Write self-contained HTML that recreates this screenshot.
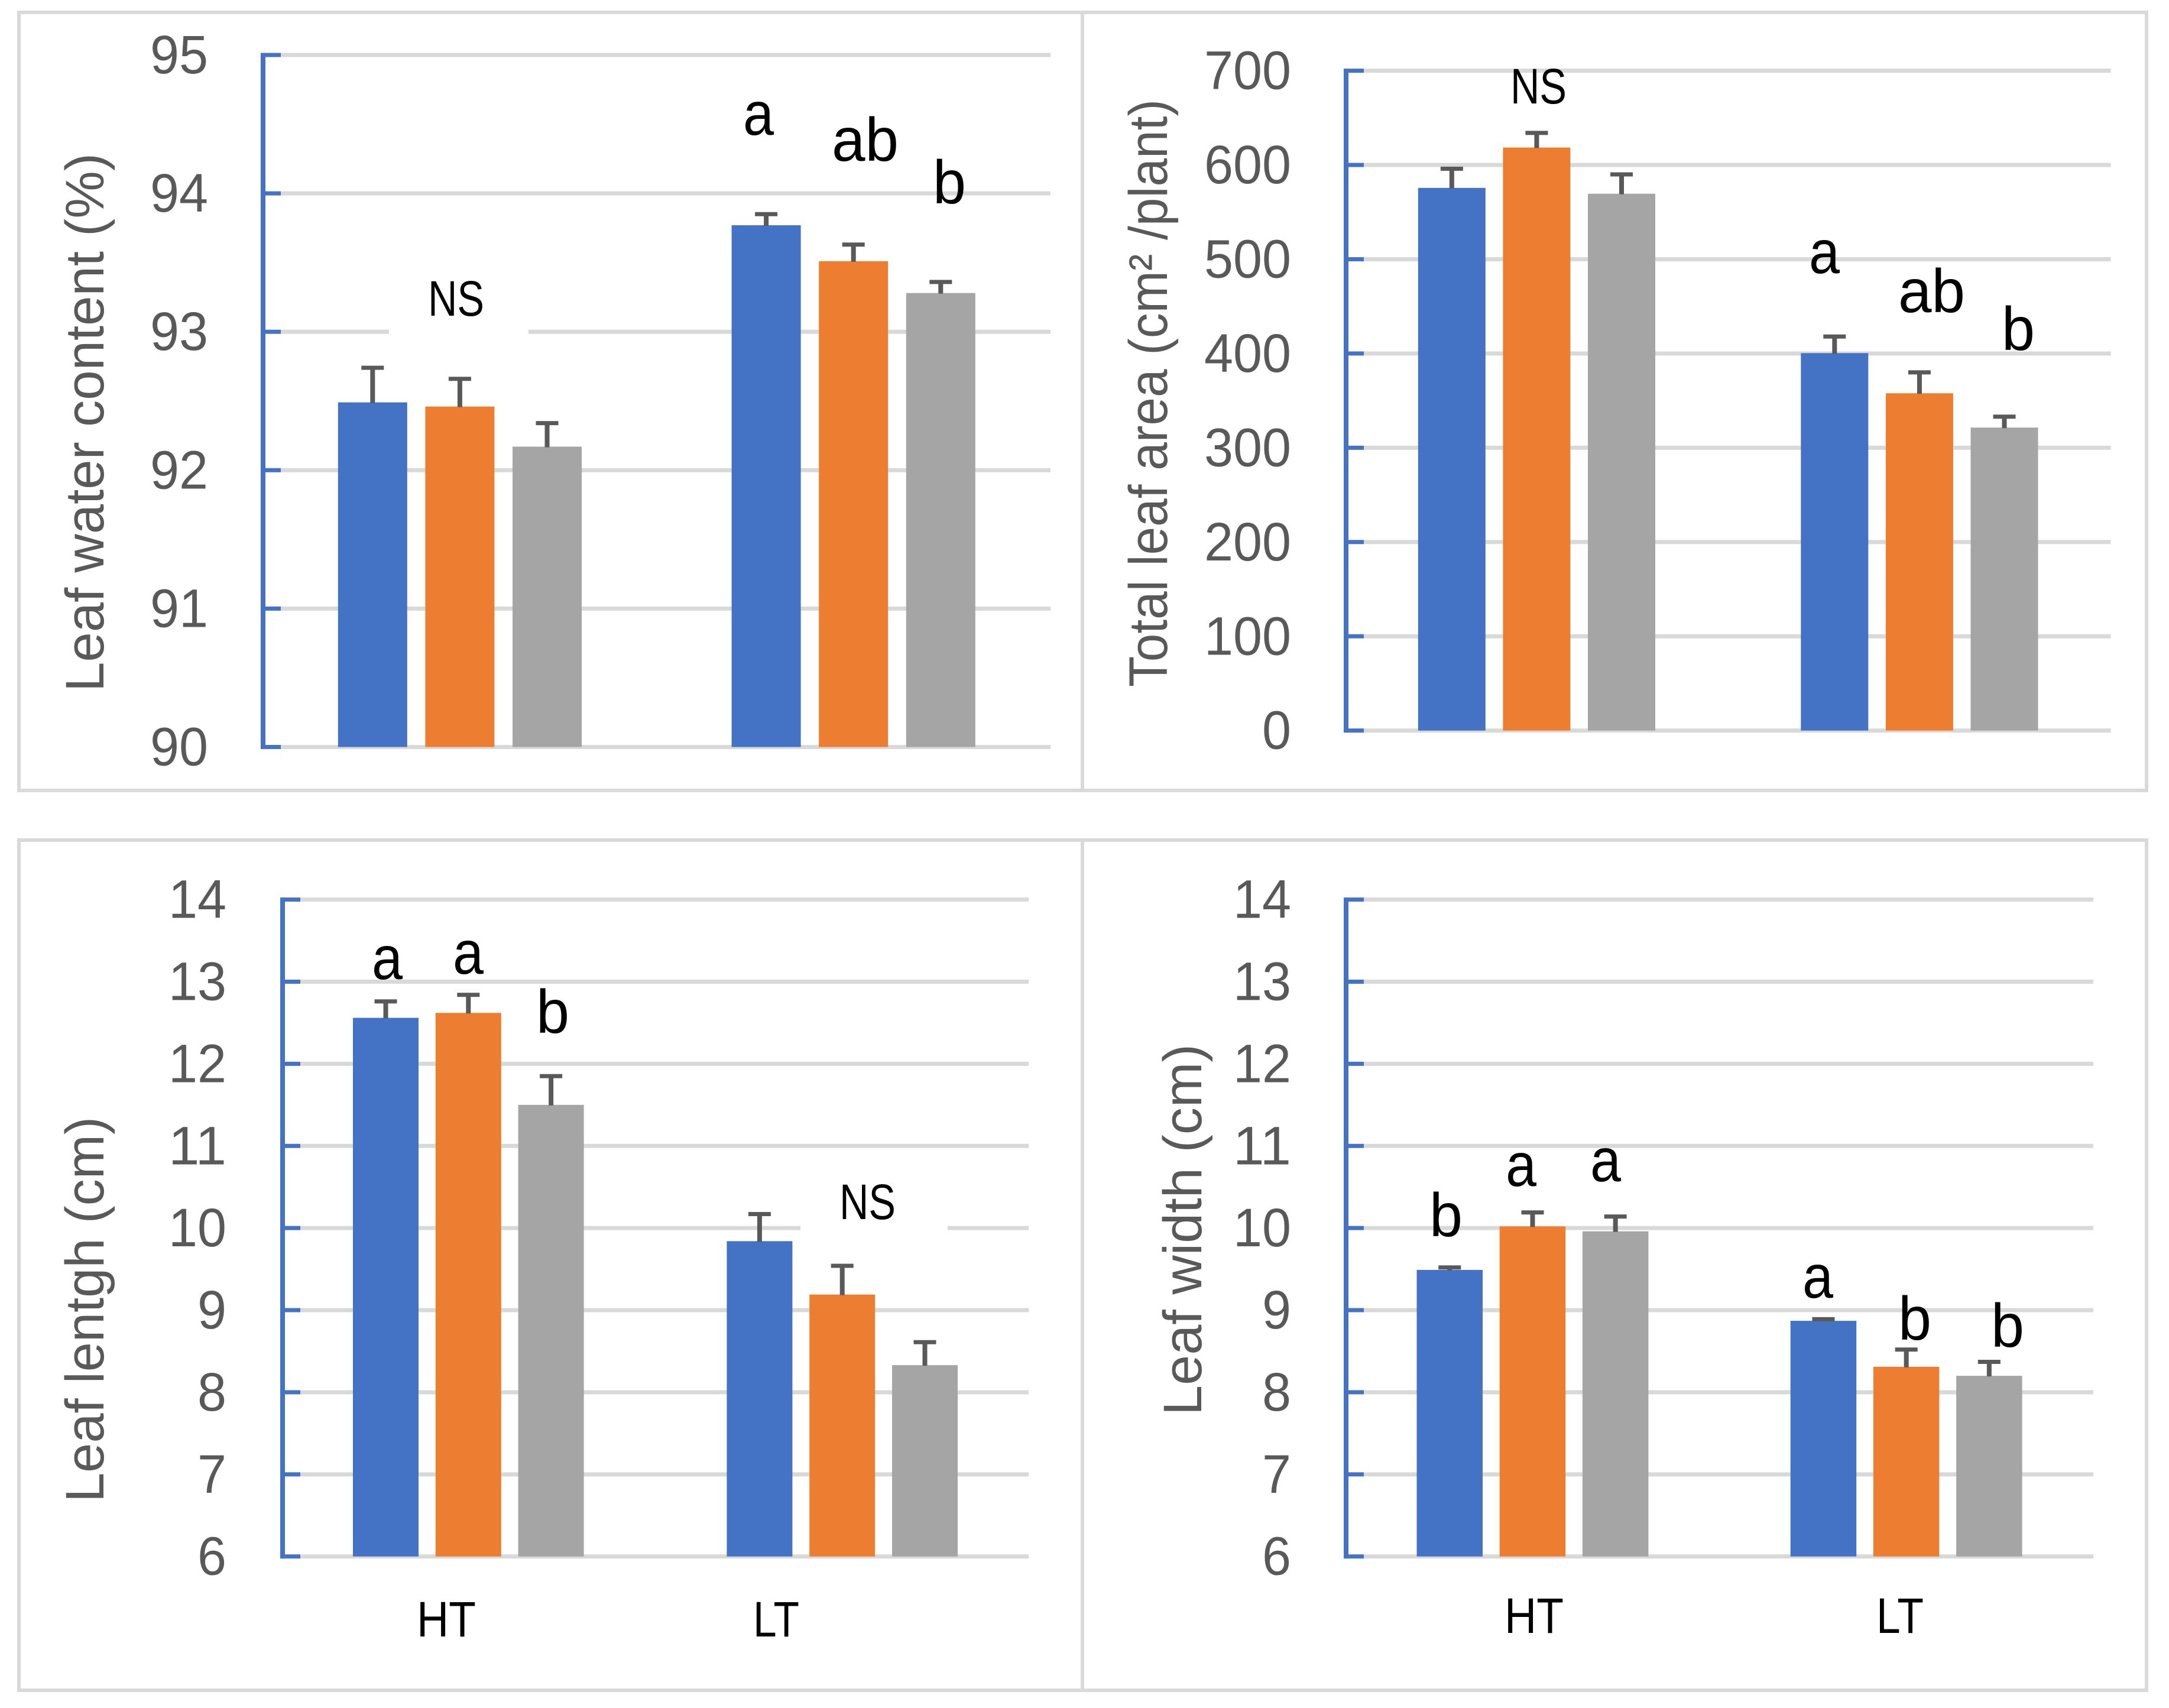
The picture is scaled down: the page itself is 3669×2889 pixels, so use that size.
<!DOCTYPE html>
<html lang="en">
<head>
<meta charset="utf-8">
<title>Leaf traits under HT and LT</title>
<style>
html,body{margin:0;padding:0;background:#fff;width:3669px;height:2889px;overflow:hidden}
svg{display:block}
text{font-family:"Liberation Sans",sans-serif}
.tick{font-size:92px;fill:#595959;text-anchor:end}
.title{font-size:92px;fill:#595959}
.note{font-size:104px;fill:#000}
.ns,.cat{font-size:84px;fill:#000}
</style>
</head>
<body>
<svg xmlns="http://www.w3.org/2000/svg" id="figure" width="3669" height="2889" viewBox="0 0 3669 2889">
  <rect x="0" y="0" width="3669" height="2889" fill="#ffffff"/>
  <g id="frames" fill="none" stroke="#d9d9d9" stroke-width="6">
    <rect x="32" y="21" width="1799" height="1316"/>
    <rect x="1831" y="21" width="1800" height="1316"/>
    <rect x="32" y="1421" width="1799" height="1438"/>
    <rect x="1831" y="1421" width="1800" height="1438"/>
  </g>
  <g id="chart-water"></g>
  <g id="chart-area"></g>
  <g id="chart-length"></g>
  <g id="chart-width"></g>

  <g id="annotations">
    <rect x="658" y="552" width="236" height="18" fill="#ffffff"/>
    <rect x="1354" y="2070" width="249" height="18" fill="#ffffff"/>

    <text class="title" transform="translate(175,1170) rotate(-90)" textLength="911" lengthAdjust="spacingAndGlyphs">Leaf water content (%)</text>
    <text class="title" transform="translate(1974,1162) rotate(-90)" textLength="994" lengthAdjust="spacingAndGlyphs">Total leaf area (cm² /plant)</text>
    <text class="title" transform="translate(175,2541) rotate(-90)" textLength="652" lengthAdjust="spacingAndGlyphs">Leaf lentgh (cm)</text>
    <text class="title" transform="translate(2032,2394) rotate(-90)" textLength="628" lengthAdjust="spacingAndGlyphs">Leaf width (cm)</text>

    <text class="ns" x="724" y="534" textLength="95" lengthAdjust="spacingAndGlyphs">NS</text>
    <text class="note" x="1257" y="228" textLength="52" lengthAdjust="spacingAndGlyphs">a</text>
    <text class="note" x="1407" y="272" textLength="113" lengthAdjust="spacingAndGlyphs">ab</text>
    <text class="note" x="1578" y="344" textLength="56" lengthAdjust="spacingAndGlyphs">b</text>

    <text class="ns" x="2555" y="175" textLength="95" lengthAdjust="spacingAndGlyphs">NS</text>
    <text class="note" x="3060" y="462" textLength="52" lengthAdjust="spacingAndGlyphs">a</text>
    <text class="note" x="3211" y="528" textLength="113" lengthAdjust="spacingAndGlyphs">ab</text>
    <text class="note" x="3386" y="592" textLength="56" lengthAdjust="spacingAndGlyphs">b</text>

    <text class="note" x="629" y="1656" textLength="52" lengthAdjust="spacingAndGlyphs">a</text>
    <text class="note" x="766" y="1647" textLength="52" lengthAdjust="spacingAndGlyphs">a</text>
    <text class="note" x="907" y="1747" textLength="56" lengthAdjust="spacingAndGlyphs">b</text>
    <text class="ns" x="1420" y="2062" textLength="95" lengthAdjust="spacingAndGlyphs">NS</text>
    <text class="cat" x="705" y="2768" textLength="100" lengthAdjust="spacingAndGlyphs">HT</text>
    <text class="cat" x="1274" y="2768" textLength="78" lengthAdjust="spacingAndGlyphs">LT</text>

    <text class="note" x="2418" y="2091" textLength="56" lengthAdjust="spacingAndGlyphs">b</text>
    <text class="note" x="2547" y="2006" textLength="52" lengthAdjust="spacingAndGlyphs">a</text>
    <text class="note" x="2690" y="1998" textLength="52" lengthAdjust="spacingAndGlyphs">a</text>
    <text class="note" x="3049" y="2195" textLength="52" lengthAdjust="spacingAndGlyphs">a</text>
    <text class="note" x="3211" y="2266" textLength="56" lengthAdjust="spacingAndGlyphs">b</text>
    <text class="note" x="3368" y="2278" textLength="56" lengthAdjust="spacingAndGlyphs">b</text>
    <text class="cat" x="2545" y="2762" textLength="100" lengthAdjust="spacingAndGlyphs">HT</text>
    <text class="cat" x="3174" y="2762" textLength="80" lengthAdjust="spacingAndGlyphs">LT</text>
  </g>
</svg>
<script>
// Categories and series colours
const categories = ['HT', 'LT'];
const seriesColors = ['#4472c4', '#ed7d31', '#a5a5a5'];

// Leaf water content (%)
const waterTicks = [90, 91, 92, 93, 94, 95];
const waterValues = [[92.49, 92.46, 92.17], [93.77, 93.51, 93.28]];
const waterErrorTops = [[92.74, 92.66, 92.34], [93.85, 93.63, 93.36]];

// Total leaf area (cm2/plant)
const areaTicks = [0, 100, 200, 300, 400, 500, 600, 700];
const areaValues = [[575.7, 618.5, 569.5], [400.4, 357.8, 321.4]];
const areaErrorTops = [[596, 634, 590], [418, 380, 333]];

// Leaf length (cm)
const lengthTicks = [6, 7, 8, 9, 10, 11, 12, 13, 14];
const lengthValues = [[12.56, 12.62, 11.5], [9.84, 9.19, 8.33]];
const lengthErrorTops = [[12.76, 12.84, 11.85], [10.17, 9.54, 8.61]];

// Leaf width (cm)
const widthTicks = [6, 7, 8, 9, 10, 11, 12, 13, 14];
const widthValues = [[9.49, 10.02, 9.96], [8.87, 8.31, 8.2]];
const widthErrorTops = [[9.52, 10.19, 10.14], [8.89, 8.52, 8.37]];

const NS = 'http://www.w3.org/2000/svg';

function make(parent, tag, attrs) {
  const el = document.createElementNS(NS, tag);
  for (const k in attrs) el.setAttribute(k, attrs[k]);
  parent.appendChild(el);
  return el;
}

function drawChart(id, key, ticks, values, errorTops, layout) {
  const root = document.getElementById(id);
  const lo = ticks[0];
  const hi = ticks[ticks.length - 1];
  const yScale = v => layout.yBottom + (v - lo) * (layout.yTop - layout.yBottom) / (hi - lo);
  const barLeft = (g, s) => layout.xStart + g * layout.groupStep + s * layout.barStep;

  ticks.forEach(t => {
    const y = yScale(t);
    const grid = make(root, 'rect', {x: layout.axisX + 30, y: y - 3.5, width: layout.gridRight - layout.axisX - 30, height: 7, fill: '#d9d9d9'});
    
    
  });

  ticks.forEach(t => {
    const y = yScale(t);
    const label = make(root, 'text', {class: 'tick', x: layout.labelRight, y: y + 31, textLength: String(t).length * 49, lengthAdjust: 'spacingAndGlyphs'});
    label.textContent = t;
    
    
  });

  const groupCount = values.length;
  for (let g = 0; g < groupCount; g++) {
    values[g].forEach((v, s) => {
      const left = barLeft(g, s);
      const top = yScale(v);
      const bar = make(root, 'rect', {x: left, y: top, width: layout.barWidth, height: layout.yBottom - top, fill: seriesColors[s]});
      
      

      const cx = left + layout.barWidth / 2;
      const errY = yScale(errorTops[g][s]);
      const stem = make(root, 'rect', {x: cx - 4, y: errY, width: 8, height: Math.max(top - errY + 1, 0), fill: '#595959'});
      
      
      const cap = make(root, 'rect', {x: cx - 19, y: errY - 3.5, width: 38, height: 7, fill: '#595959'});
      
      
    });
  }

  const axis = make(root, 'rect', {x: layout.axisX - 4, y: layout.yTop - 3.5, width: 8, height: layout.yBottom - layout.yTop + 7, fill: '#4472c4'});
  
  
  ticks.forEach(t => {
    const mark = make(root, 'rect', {x: layout.axisX, y: yScale(t) - 3.5, width: 30, height: 7, fill: '#4472c4'});
    
    
  });
}

drawChart('chart-water', 'water', waterTicks, waterValues, waterErrorTops,
  {axisX: 445, gridRight: 1777, yTop: 93, yBottom: 1263.5, labelRight: 352, xStart: 571.8, barWidth: 117, barStep: 147.6, groupStep: 665.8});
drawChart('chart-area', 'area', areaTicks, areaValues, areaErrorTops,
  {axisX: 2277, gridRight: 3570.6, yTop: 119.6, yBottom: 1235.7, labelRight: 2184, xStart: 2398.8, barWidth: 114, barStep: 143.6, groupStep: 647.5});
drawChart('chart-length', 'length', lengthTicks, lengthValues, lengthErrorTops,
  {axisX: 478, gridRight: 1740, yTop: 1521.6, yBottom: 2632.7, labelRight: 383, xStart: 597, barWidth: 111, barStep: 139.8, groupStep: 632.4});
drawChart('chart-width', 'width', widthTicks, widthValues, widthErrorTops,
  {axisX: 2277, gridRight: 3541, yTop: 1521.6, yBottom: 2632.7, labelRight: 2184, xStart: 2396.5, barWidth: 111.5, barStep: 140.2, groupStep: 632.2});

// Keep the gridline knockouts and labels above the drawn charts
const svgRoot = document.getElementById('figure');
svgRoot.appendChild(document.getElementById('annotations'));
</script>
</body>
</html>
